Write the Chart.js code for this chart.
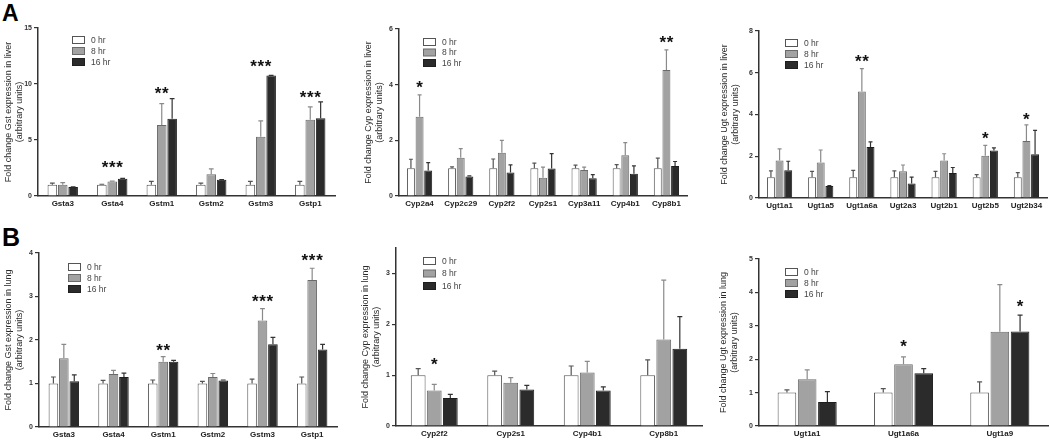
<!DOCTYPE html>
<html>
<head>
<meta charset="utf-8">
<script src="https://cdn.jsdelivr.net/npm/chart.js@4.4.1/dist/chart.umd.min.js"></script>
<style>
  body { margin: 0; background: #fff; }
  #wrap { position: relative; width: 1050px; height: 440px; overflow: hidden; background: #fff; }
  canvas { position: absolute; }
  .tag { position: absolute; font-family: "Liberation Sans", Arial, sans-serif; font-weight: bold; line-height: 1; color: #000; }
</style>
</head>
<body>
<div id="wrap">
  <div class="tag" style="left:2px; top:2px; font-size:23px;">A</div>
  <div class="tag" style="left:2px; top:225px; font-size:25px;">B</div>
  <canvas id="gstLiver" width="345" height="215" style="left:0; top:0;"></canvas>
  <canvas id="cypLiver" width="345" height="215" style="left:350px; top:0;"></canvas>
  <canvas id="ugtLiver" width="350" height="215" style="left:700px; top:0;"></canvas>
  <canvas id="gstLung" width="345" height="225" style="left:0; top:215px;"></canvas>
  <canvas id="cypLung" width="355" height="225" style="left:350px; top:215px;"></canvas>
  <canvas id="ugtLung" width="350" height="225" style="left:700px; top:215px;"></canvas>
</div>
<script>
const timeLabels = ["0 hr", "8 hr", "16 hr"];

// A - liver, Gst
const gstLiverGenes = ["Gsta3", "Gsta4", "Gstm1", "Gstm2", "Gstm3", "Gstp1"];
const gstLiver0 = [1.0, 1.0, 1.0, 1.0, 1.0, 1.0];
const gstLiver8 = [1.0, 1.3, 6.35, 1.95, 5.3, 6.8];
const gstLiver16 = [0.8, 1.55, 6.9, 1.45, 10.75, 6.95];
const gstLiverSem0 = [0.15, 0.05, 0.3, 0.15, 0.3, 0.3];
const gstLiverSem8 = [0.2, 0.03, 1.9, 0.47, 1.4, 1.15];
const gstLiverSem16 = [0.02, 0.02, 1.8, 0.02, 0.02, 1.45];
const gstLiverStars = ["", "***", "**", "", "***", "***"];
const gstLiverStarY = [null, 2.9, 9.5, null, 11.9, 9.2];

// A - liver, Cyp
const cypLiverGenes = ["Cyp2a4", "Cyp2c29", "Cyp2f2", "Cyp2s1", "Cyp3a11", "Cyp4b1", "Cyp8b1"];
const cypLiver0 = [1.0, 1.0, 1.0, 1.0, 1.0, 1.0, 1.0];
const cypLiver8 = [2.85, 1.37, 1.55, 0.66, 0.93, 1.46, 4.53];
const cypLiver16 = [0.92, 0.7, 0.84, 0.99, 0.64, 0.8, 1.08];
const cypLiverSem0 = [0.32, 0.05, 0.33, 0.18, 0.11, 0.13, 0.36];
const cypLiverSem8 = [0.78, 0.33, 0.45, 0.38, 0.11, 0.46, 0.72];
const cypLiverSem16 = [0.28, 0.02, 0.28, 0.53, 0.13, 0.28, 0.16];
const cypLiverStars = ["*", "", "", "", "", "", "**"];
const cypLiverStarY = [4.05, null, null, null, null, null, 5.65];

// A - liver, Ugt
const ugtLiverGenes = ["Ugt1a1", "Ugt1a5", "Ugt1a6a", "Ugt2a3", "Ugt2b1", "Ugt2b5", "Ugt2b34"];
const ugtLiver0 = [1.0, 1.0, 1.0, 1.0, 1.0, 1.0, 1.0];
const ugtLiver8 = [1.8, 1.7, 5.1, 1.28, 1.8, 2.02, 2.73];
const ugtLiver16 = [1.33, 0.57, 2.44, 0.7, 1.2, 2.27, 2.09];
const ugtLiverSem0 = [0.3, 0.28, 0.32, 0.3, 0.28, 0.12, 0.22];
const ugtLiverSem8 = [0.55, 0.6, 1.1, 0.3, 0.32, 0.5, 0.77];
const ugtLiverSem16 = [0.43, 0.02, 0.25, 0.3, 0.26, 0.13, 1.15];
const ugtLiverStars = ["", "", "**", "", "", "*", "*"];
const ugtLiverStarY = [null, null, 6.75, null, null, 3.05, 3.95];

// B - lung, Gst
const gstLungGenes = ["Gsta3", "Gsta4", "Gstm1", "Gstm2", "Gstm3", "Gstp1"];
const gstLung0 = [1.0, 1.0, 1.0, 1.0, 1.0, 1.0];
const gstLung8 = [1.58, 1.22, 1.5, 1.15, 2.45, 3.38];
const gstLung16 = [1.05, 1.15, 1.5, 1.07, 1.9, 1.78];
const gstLungSem0 = [0.15, 0.07, 0.08, 0.05, 0.1, 0.15];
const gstLungSem8 = [0.32, 0.08, 0.12, 0.08, 0.27, 0.27];
const gstLungSem16 = [0.15, 0.09, 0.03, 0.01, 0.16, 0.12];
const gstLungStars = ["", "", "**", "", "***", "***"];
const gstLungStarY = [null, null, 1.85, null, 2.98, 3.92];

// B - lung, Cyp
const cypLungGenes = ["Cyp2f2", "Cyp2s1", "Cyp4b1", "Cyp8b1"];
const cypLung0 = [1.0, 1.0, 1.0, 1.0];
const cypLung8 = [0.7, 0.85, 1.05, 1.7];
const cypLung16 = [0.55, 0.72, 0.7, 1.52];
const cypLungSem0 = [0.13, 0.08, 0.18, 0.3];
const cypLungSem8 = [0.12, 0.1, 0.22, 1.17];
const cypLungSem16 = [0.07, 0.08, 0.07, 0.63];
const cypLungStars = ["*", "", "", ""];
const cypLungStarY = [1.3, null, null, null];
const cypLungStarBar = [1, null, null, null];

// B - lung, Ugt
const ugtLungGenes = ["Ugt1a1", "Ugt1a6a", "Ugt1a9"];
const ugtLung0 = [1.0, 1.0, 1.0];
const ugtLung8 = [1.4, 1.85, 2.82];
const ugtLung16 = [0.72, 1.58, 2.83];
const ugtLungSem0 = [0.08, 0.12, 0.32];
const ugtLungSem8 = [0.28, 0.22, 1.41];
const ugtLungSem16 = [0.31, 0.14, 0.49];
const ugtLungStars = ["", "*", "*"];
const ugtLungStarY = [null, 2.5, 3.7];
const ugtLungStarBar = [null, null, 2];

const FONT = '"Liberation Sans", Arial, sans-serif';
const fills = ["#ffffff", "#a2a2a2", "#2b2b2b"];
const borders = ["#555555", "#6a6a6a", "#1e1e1e"];
const whiskers = ["#555555", "#8a8a8a", "#333333"];

// error bars, significance stars and the small legend inside the plot
const panelExtras = {
  id: "panelExtras",
  afterDatasetsDraw(chart, args, opts) {
    const ctx = chart.ctx;
    const y = chart.scales.y;
    const area = chart.chartArea;
    ctx.save();

    chart.data.datasets.forEach((ds, i) => {
      const meta = chart.getDatasetMeta(i);
      meta.data.forEach((bar, j) => {
        const top = y.getPixelForValue(ds.data[j] + ds.sem[j]);
        const half = Math.min(2.5, bar.width * 0.25);
        ctx.strokeStyle = whiskers[i];
        ctx.lineWidth = 1.2;
        ctx.beginPath();
        ctx.moveTo(bar.x, bar.y);
        ctx.lineTo(bar.x, top);
        ctx.moveTo(bar.x - half, top);
        ctx.lineTo(bar.x + half, top);
        ctx.stroke();
      });
    });

    // stars
    const size = 17;
    ctx.font = "bold " + size + "px " + FONT;
    ctx.fillStyle = "#111";
    ctx.textAlign = "center";
    ctx.textBaseline = "alphabetic";
    opts.stars.forEach((s, j) => {
      if (!s) return;
      let cx = chart.scales.x.getPixelForValue(j);
      const k = opts.starBar ? opts.starBar[j] : null;
      if (k !== null && k !== undefined) cx = chart.getDatasetMeta(k).data[j].x;
      const cy = y.getPixelForValue(opts.starY[j]) + size * 0.57;
      const step = 7.3;
      for (let n = 0; n < s.length; n++) {
        ctx.fillText("*", cx + (n - (s.length - 1) / 2) * step, cy);
      }
    });

    // legend
    const lx = area.left + opts.legend[0];
    const ly = area.top + opts.legend[1];
    ctx.font = "8.5px " + FONT;
    ctx.textAlign = "left";
    ctx.textBaseline = "middle";
    chart.data.datasets.forEach((ds, i) => {
      const ry = ly + i * opts.legend[2];
      ctx.fillStyle = fills[i];
      ctx.fillRect(lx, ry - 3.5, 13, 7);
      ctx.strokeStyle = borders[i];
      ctx.lineWidth = 1;
      ctx.strokeRect(lx + 0.5, ry - 3.5, 12, 7);
      ctx.fillStyle = "#444";
      ctx.fillText(ds.label, lx + 19, ry + 0.5);
    });
    ctx.restore();
  }
};

function makePanel(id, genes, means, sems, stars, starY, starBar, p) {
  return new Chart(document.getElementById(id), {
    type: "bar",
    data: {
      labels: genes,
      datasets: means.map((m, i) => ({
        label: timeLabels[i],
        data: m,
        sem: sems[i],
        backgroundColor: fills[i],
        borderColor: borders[i],
        borderWidth: 1,
        categoryPercentage: 0.63,
        barPercentage: 0.92
      }))
    },
    options: {
      responsive: false,
      animation: false,
      layout: { padding: p.pad },
      plugins: {
        legend: { display: false },
        tooltip: { enabled: false },
        panelExtras: { stars, starY, starBar, legend: p.legend }
      },
      scales: {
        x: {
          afterFit: s => { s.height = p.xHeight; },
          border: { display: true, color: "#333", width: 1.5 },
          grid: { display: false, drawTicks: false },
          ticks: { color: "#222", padding: 3, maxRotation: 0, autoSkip: false,
                   font: { family: FONT, size: 8, weight: "bold" } }
        },
        y: {
          min: 0,
          max: p.yMax,
          afterFit: s => { s.width = p.yWidth; },
          border: { display: true, color: "#333", width: 1.5 },
          grid: { drawOnChartArea: false, drawTicks: true, tickLength: 4, color: "#333", lineWidth: 1.2 },
          ticks: { stepSize: p.yStep, includeBounds: false, color: "#333", padding: 2,
                   font: { family: FONT, size: 7, weight: "bold" } },
          title: { display: true, text: [p.title, "(arbitrary units)"], color: "#2a2a2a",
                   padding: { top: 3, bottom: 0 }, font: { family: FONT, size: 9 } }
        }
      }
    },
    plugins: [panelExtras]
  });
}

makePanel("gstLiver", gstLiverGenes,
  [gstLiver0, gstLiver8, gstLiver16], [gstLiverSem0, gstLiverSem8, gstLiverSem16],
  gstLiverStars, gstLiverStarY, null,
  { pad: { left: 0, top: 28, right: 10, bottom: 3 }, yWidth: 38, xHeight: 16, yMax: 15, yStep: 5,
    title: "Fold change Gst expression in liver", legend: [34, 12, 11] });

makePanel("cypLiver", cypLiverGenes,
  [cypLiver0, cypLiver8, cypLiver16], [cypLiverSem0, cypLiverSem8, cypLiverSem16],
  cypLiverStars, cypLiverStarY, null,
  { pad: { left: 10, top: 29, right: 8, bottom: 3 }, yWidth: 39, xHeight: 16, yMax: 6, yStep: 2,
    title: "Fold change Cyp expression in liver", legend: [24, 13, 10.5] });

makePanel("ugtLiver", ugtLiverGenes,
  [ugtLiver0, ugtLiver8, ugtLiver16], [ugtLiverSem0, ugtLiverSem8, ugtLiverSem16],
  ugtLiverStars, ugtLiverStarY, null,
  { pad: { left: 16, top: 31, right: 3, bottom: 1 }, yWidth: 43, xHeight: 16, yMax: 8, yStep: 2,
    title: "Fold change Ugt expression in liver", legend: [26, 12, 11] });

makePanel("gstLung", gstLungGenes,
  [gstLung0, gstLung8, gstLung16], [gstLungSem0, gstLungSem8, gstLungSem16],
  gstLungStars, gstLungStarY, null,
  { pad: { left: 0, top: 38, right: 8, bottom: 0 }, yWidth: 39, xHeight: 13, yMax: 4, yStep: 1,
    title: "Fold change Gst expression in lung", legend: [29, 14, 11] });

makePanel("cypLung", cypLungGenes,
  [cypLung0, cypLung8, cypLung16], [cypLungSem0, cypLungSem8, cypLungSem16],
  cypLungStars, cypLungStarY, cypLungStarBar,
  { pad: { left: 7, top: 33, right: 3, bottom: 0 }, yWidth: 39, xHeight: 14, yMax: 3.5, yStep: 1,
    title: "Fold change Cyp expression in lung", legend: [27, 13, 12.5] });

makePanel("ugtLung", ugtLungGenes,
  [ugtLung0, ugtLung8, ugtLung16], [ugtLungSem0, ugtLungSem8, ugtLungSem16],
  ugtLungStars, ugtLungStarY, ugtLungStarBar,
  { pad: { left: 15, top: 44, right: 2, bottom: 0 }, yWidth: 44, xHeight: 14, yMax: 5, yStep: 1,
    title: "Fold change Ugt expression in lung", legend: [26, 13, 11] });
</script>
</body>
</html>
